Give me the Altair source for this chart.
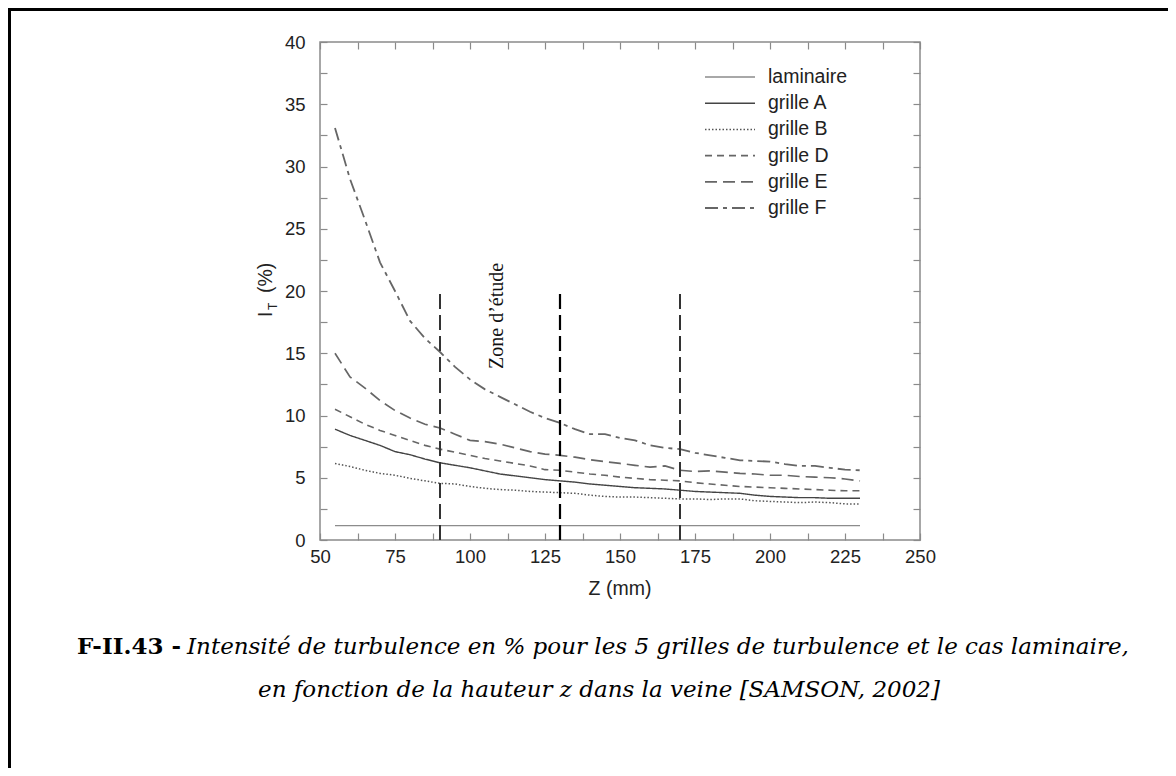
import altair as alt
import pandas as pd

# ---------------- data ----------------
Z_MM = [55, 60, 65, 70, 75, 80, 85, 90, 95, 100, 105, 110, 115, 120, 125, 130, 135, 140,
        145, 150, 155, 160, 165, 170, 175, 180, 185, 190, 195, 200, 205, 210, 215, 220, 225, 230]

LAMINAIRE = [1.15, 1.15, 1.15, 1.15, 1.15, 1.15, 1.15, 1.15, 1.15, 1.15, 1.15, 1.15,
             1.15, 1.15, 1.15, 1.15, 1.15, 1.15, 1.15, 1.15, 1.15, 1.15, 1.15, 1.15,
             1.15, 1.15, 1.15, 1.15, 1.15, 1.15, 1.15, 1.15, 1.15, 1.15, 1.15, 1.15]
GRILLE_A = [8.9, 8.4, 8.0, 7.6, 7.1, 6.85, 6.5, 6.2, 6.0, 5.8, 5.55, 5.3,
            5.15, 5.0, 4.85, 4.75, 4.65, 4.5, 4.4, 4.3, 4.2, 4.15, 4.1, 4.0,
            3.9, 3.85, 3.8, 3.75, 3.6, 3.5, 3.45, 3.4, 3.4, 3.35, 3.35, 3.35]
GRILLE_B = [6.15, 5.9, 5.6, 5.35, 5.2, 4.95, 4.75, 4.55, 4.5, 4.3, 4.15, 4.05,
            4.0, 3.9, 3.85, 3.8, 3.75, 3.6, 3.5, 3.45, 3.45, 3.4, 3.35, 3.3,
            3.3, 3.25, 3.3, 3.3, 3.15, 3.1, 3.05, 3.0, 3.05, 3.0, 2.9, 2.9]
GRILLE_D = [10.5, 9.9, 9.3, 8.8, 8.4, 8.0, 7.6, 7.3, 7.05, 6.8, 6.55, 6.35,
            6.15, 5.95, 5.65, 5.6, 5.45, 5.3, 5.2, 5.05, 4.95, 4.85, 4.8, 4.75,
            4.6, 4.5, 4.4, 4.3, 4.25, 4.2, 4.15, 4.1, 4.05, 4.0, 3.95, 3.95]
GRILLE_E = [15.0, 13.1, 12.2, 11.2, 10.4, 9.8, 9.3, 9.0, 8.5, 8.0, 7.9, 7.7,
            7.4, 7.1, 6.9, 6.8, 6.65, 6.45, 6.3, 6.15, 6.0, 5.85, 5.95, 5.6,
            5.5, 5.55, 5.45, 5.35, 5.3, 5.2, 5.2, 5.1, 5.05, 5.0, 4.9, 4.75]
GRILLE_F = [33.1, 29.0, 25.7, 22.3, 20.0, 17.6, 16.2, 15.1, 13.9, 12.9, 12.1, 11.5,
            10.9, 10.3, 9.8, 9.4, 8.9, 8.5, 8.5, 8.2, 8.0, 7.6, 7.4, 7.3,
            7.0, 6.8, 6.6, 6.4, 6.35, 6.3, 6.1, 5.95, 5.95, 5.8, 5.65, 5.6]

SERIES = ["laminaire", "grille A", "grille B", "grille D", "grille E", "grille F"]
VALUES = [LAMINAIRE, GRILLE_A, GRILLE_B, GRILLE_D, GRILLE_E, GRILLE_F]

ZONE_Z_GRAY = [90, 170]
ZONE_Z_BLACK = [130]
ZONE_BOTTOM = 0
ZONE_TOP = 20
ZONE_LABEL = "Zone d\u2019étude"
ZONE_LABEL_Z = 109
ZONE_LABEL_V = 18

X_TICKS = [50, 62.5, 75, 87.5, 100, 112.5, 125, 137.5, 150, 162.5, 175, 187.5,
           200, 212.5, 225, 237.5, 250]
Y_TICKS = [0, 2.5, 5, 7.5, 10, 12.5, 15, 17.5, 20, 22.5, 25, 27.5, 30, 32.5, 35, 37.5, 40]

X_TITLE = "Z (mm)"
CAPTION_BOLD = "F-II.43 -"
CAPTION_L1 = "Intensité de turbulence en % pour les 5 grilles de turbulence et le cas laminaire,"
CAPTION_L2 = "en fonction de la hauteur z dans la veine [SAMSON, 2002]"

# ---------------- styles ----------------
COLORS = ["#8c8c8c", "#444444", "#555555", "#666666", "#666666", "#666666"]
DASHES = [[1, 0], [1, 0], [1.5, 2], [7, 5], [12, 6], [13, 5, 4, 5]]
WIDTHS = [1.3, 1.8, 1.4, 1.6, 1.6, 1.6]
SANS = "Liberation Sans"
SERIF = "Liberation Serif"
CAP_FONT = "DejaVu Serif"
CAP_SIZE = 23
W, H = 600, 498

rows = []
for s, vals in zip(SERIES, VALUES):
    for z, v in zip(Z_MM, vals):
        rows.append({"series": s, "z": z, "v": v})
df = pd.DataFrame(rows)

xscale = alt.Scale(domain=[50, 250], nice=False, zero=False)
yscale = alt.Scale(domain=[0, 40], nice=False, zero=True)

color = alt.Color("series:N", scale=alt.Scale(domain=SERIES, range=COLORS), legend=None)
dash = alt.StrokeDash("series:N", scale=alt.Scale(domain=SERIES, range=DASHES), legend=None)
width = alt.StrokeWidth("series:N", scale=alt.Scale(domain=SERIES, range=WIDTHS), legend=None)

axis_common = dict(offset=-7, tickSize=7, domain=False, grid=False, title=None,
                   tickColor="#8a8a8a", tickWidth=1.2, labelOverlap=False)

lines = alt.Chart(df).mark_line().encode(
    x=alt.X("z:Q", scale=xscale, axis=alt.Axis(
        orient="bottom", values=X_TICKS,
        labelExpr="datum.value % 25 == 0 ? datum.label : ''",
        labelFont=SANS, labelFontSize=18.5, labelColor="#222", labelPadding=7,
        labelFlush=False, **axis_common)),
    y=alt.Y("v:Q", scale=yscale, axis=alt.Axis(
        orient="left", values=Y_TICKS,
        labelExpr="datum.value % 5 == 0 ? datum.label : ''",
        labelFont=SANS, labelFontSize=18.5, labelColor="#222", labelPadding=15,
        labelFlush=False, **axis_common)),
    color=color, strokeDash=dash, strokeWidth=width,
)

zone_gray = pd.DataFrame({"z": ZONE_Z_GRAY, "y0": [ZONE_BOTTOM] * len(ZONE_Z_GRAY),
                          "y1": [ZONE_TOP] * len(ZONE_Z_GRAY)})
zone_black = pd.DataFrame({"z": ZONE_Z_BLACK, "y0": [ZONE_BOTTOM], "y1": [ZONE_TOP]})

rules_gray = alt.Chart(zone_gray).mark_rule(color="#333333", strokeWidth=2,
                                            strokeDash=[15, 6]).encode(
    x=alt.X("z:Q", scale=xscale, axis=alt.Axis(orient="top", values=X_TICKS, labels=False,
                                                **axis_common)),
    y=alt.Y("y0:Q", scale=yscale, axis=alt.Axis(orient="right", values=Y_TICKS, labels=False,
                                                 **axis_common)),
    y2="y1:Q",
)
rules_black = alt.Chart(zone_black).mark_rule(color="#000000", strokeWidth=2.2,
                                              strokeDash=[15, 6]).encode(
    x=alt.X("z:Q", scale=xscale, axis=None),
    y=alt.Y("y0:Q", scale=yscale, axis=None),
    y2="y1:Q",
)

zone_text = alt.Chart(pd.DataFrame({"z": [ZONE_LABEL_Z], "v": [ZONE_LABEL_V],
                                    "t": [ZONE_LABEL]})).mark_text(
    angle=270, font=SERIF, fontSize=20, color="#111", align="center", baseline="middle"
).encode(
    x=alt.X("z:Q", scale=xscale, axis=None),
    y=alt.Y("v:Q", scale=yscale, axis=None),
    text="t:N",
)

# custom legend inside the plot
leg_df = pd.DataFrame({"series": SERIES, "idx": list(range(len(SERIES)))})
leg_base = alt.Chart(leg_df).transform_calculate(ly="35 + 26.2 * datum.idx")
leg_lines = leg_base.mark_rule().encode(
    x=alt.value(385), x2=alt.value(435),
    y=alt.Y("ly:Q", scale=None, axis=None),
    color=color, strokeDash=dash, strokeWidth=width,
)
leg_text = leg_base.mark_text(align="left", baseline="middle", font=SANS, fontSize=19.5,
                              color="#222").encode(
    x=alt.value(448),
    y=alt.Y("ly:Q", scale=None, axis=None),
    text="series:N",
)

one = pd.DataFrame({"k": [0]})


def label(text, x, y, **kw):
    return alt.Chart(one).mark_text(**kw).encode(
        x=alt.value(x), y=alt.value(y), text=alt.value(text))


x_title = label(X_TITLE, 300, 553, font=SANS, fontSize=19.5, color="#222",
                align="center", baseline="alphabetic")
y_title_i = label("I", -48, 275, font=SANS, fontSize=19.5, color="#222", angle=270,
                  align="left", baseline="alphabetic")
y_title_t = label("T", -43, 268, font=SANS, fontSize=12, color="#222", angle=270,
                  align="left", baseline="alphabetic")
y_title_p = label("(%)", -48, 251, font=SANS, fontSize=19.5, color="#222", angle=270,
                  align="left", baseline="alphabetic")

cap_bold = label(CAPTION_BOLD, -139, 605, font=CAP_FONT, fontSize=CAP_SIZE, fontWeight="bold",
                 color="#000", align="right", baseline="middle")
cap_l1 = label(CAPTION_L1, -133, 605, font=CAP_FONT, fontSize=CAP_SIZE, fontStyle="italic",
               color="#000", align="left", baseline="middle")
cap_l2 = label(CAPTION_L2, 279, 648, font=CAP_FONT, fontSize=CAP_SIZE, fontStyle="italic",
               color="#000", align="center", baseline="middle")

border_top = alt.Chart(one).mark_rule(color="#000", strokeWidth=3).encode(
    x=alt.value(-312), x2=alt.value(848), y=alt.value(-32.5))
border_left = alt.Chart(one).mark_rule(color="#000", strokeWidth=3).encode(
    x=alt.value(-310.5), y=alt.value(-34), y2=alt.value(726))

chart = alt.layer(
    lines, rules_gray, rules_black, zone_text, leg_lines, leg_text,
    x_title, y_title_i, y_title_t, y_title_p, cap_bold, cap_l1, cap_l2,
    border_top, border_left,
).resolve_axis(x="independent", y="independent").properties(
    width=W, height=H,
    autosize=alt.AutoSizeParams(type="none"),
    padding={"left": 312, "top": 34, "right": 248, "bottom": 228},
    background="white",
).configure_view(stroke="#8a8a8a", strokeWidth=1.5)

chart.save("out.html", embed_options={"renderer": "svg", "actions": False})
